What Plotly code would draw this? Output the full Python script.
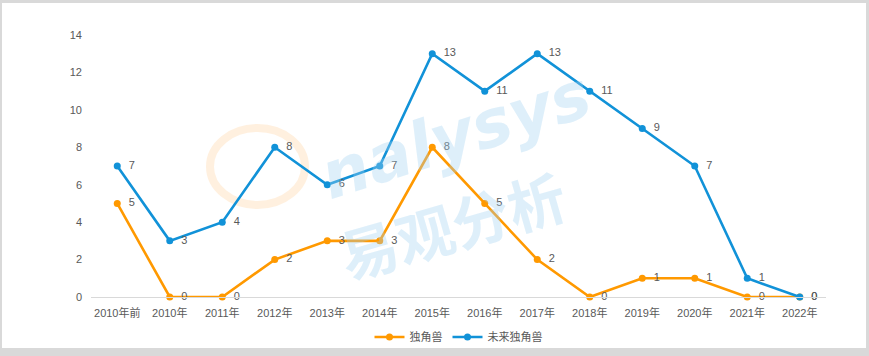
import plotly.graph_objects as go

categories = ["2010年前", "2010年", "2011年", "2012年", "2013年", "2014年", "2015年",
              "2016年", "2017年", "2018年", "2019年", "2020年", "2021年", "2022年"]
unicorn = [5, 0, 0, 2, 3, 3, 8, 5, 2, 0, 1, 1, 0, 0]
future_unicorn = [7, 3, 4, 8, 6, 7, 13, 11, 13, 11, 9, 7, 1, 0]
y_ticks = [0, 2, 4, 6, 8, 10, 12, 14]

FONT = "Liberation Sans, Noto Sans CJK SC, sans-serif"
TXT = "#595959"

fig = go.Figure()
for name, vals, color in [("独角兽", unicorn, "#FF9900"),
                          ("未来独角兽", future_unicorn, "#1192D8")]:
    fig.add_trace(go.Scatter(
        x=categories, y=vals, name=name, mode="lines+markers+text",
        line=dict(color=color, width=2.6),
        marker=dict(color=color, size=7),
        text=[f"  {v}" for v in vals], textposition="middle right",
        textfont=dict(size=11, color=TXT, family=FONT),
        cliponaxis=False,
    ))

W, H = 869, 356
L, R, T, B = 91, 826, 35, 297
def px(x): return (x - L) / (R - L)
def py(y): return (B - y) / (B - T)

shapes = [
    dict(type="rect", xref="paper", yref="paper", layer="below",
         x0=px(2), x1=px(866), y0=py(348), y1=py(3),
         fillcolor="white", line=dict(width=0)),
    dict(type="circle", xref="paper", yref="paper", layer="below",
         x0=px(210), x1=px(305), y0=py(205), y1=py(128),
         fillcolor="rgba(0,0,0,0)", line=dict(color="rgba(255,205,150,0.3)", width=8)),
]

annotations = [
    dict(text="<i><b>nalysys</b></i>", xref="paper", yref="paper",
         x=px(455), y=py(135), xanchor="center", yanchor="middle",
         showarrow=False, textangle=-18,
         font=dict(size=66, color="rgba(160,210,240,0.35)", family="DejaVu Sans")),
    dict(text="<b>易观分析</b>", xref="paper", yref="paper",
         x=px(452), y=py(224), xanchor="center", yanchor="middle",
         showarrow=False, textangle=-16,
         font=dict(size=58, color="rgba(160,210,240,0.35)", family="Noto Sans CJK SC")),
]

fig.update_layout(
    width=W, height=H,
    margin=dict(l=L, r=W - R, t=T, b=H - B, autoexpand=False),
    paper_bgcolor="#d9d9d9", plot_bgcolor="rgba(0,0,0,0)",
    font=dict(family=FONT, size=11, color=TXT),
    showlegend=True,
    legend=dict(orientation="h", x=0.5, xanchor="center", y=py(337), yanchor="middle",
                font=dict(size=11, color=TXT), itemwidth=30, bgcolor="rgba(0,0,0,0)"),
    shapes=shapes, annotations=annotations,
    xaxis=dict(type="category", showgrid=False, showline=True, linecolor="#d9d9d9",
               linewidth=1, ticks="", tickfont=dict(size=11, color=TXT),
               ticklabelstandoff=6, range=[-0.5, len(categories) - 0.5]),
    yaxis=dict(range=[0, 14], tickvals=y_ticks, showgrid=False, zeroline=False,
               showline=False, ticks="", ticklabelstandoff=8,
               tickfont=dict(size=11, color=TXT)),
)

fig.write_html("out.html", config={"displayModeBar": False},
               post_script="document.body.style.margin='0';")
